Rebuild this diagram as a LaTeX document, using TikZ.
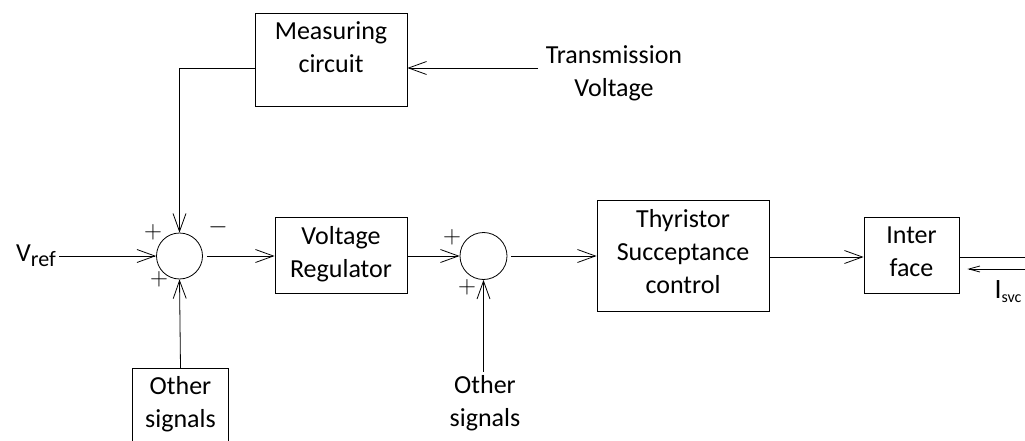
\documentclass[tikz,border=0pt]{standalone}
\usepackage{fontspec}
\setmainfont{Carlito}
\usetikzlibrary{arrows.meta,positioning,calc}
\newcommand{\blkfont}{\fontsize{26}{33}\selectfont}
\tikzstyle{blk} = [draw,rectangle,line width=0.8pt,align=center,font=\blkfont,inner sep=0pt]
\tikzstyle{lbl} = [align=center,font=\blkfont]
\tikzstyle{sumc} = [draw,circle,line width=0.8pt,minimum size=46pt,inner sep=0pt]
\tikzstyle{sig} = [line width=0.8pt,-{Straight Barb[length=18pt,width=13pt,line width=0.8pt]}]
\tikzstyle{sigs} = [line width=0.8pt,-{Straight Barb[length=11pt,width=6pt,line width=0.8pt]}]
\tikzstyle{sgn} = [font=\fontsize{26}{26}\selectfont,inner sep=0pt]

\begin{document}
\begin{tikzpicture}[x=1pt,y=-1pt]
       \useasboundingbox (0,0) rectangle (1025,441);
       \clip (0,0) rectangle (1025,441);

        \node[blk,minimum width=152pt,minimum height=93pt,text depth=25pt] (meas) at (331,59.5) {Measuring\\circuit};
        \node[blk,minimum width=132pt,minimum height=76pt,text depth=6pt] (vreg) at (341,255) {Voltage\\Regulator};
        \node[blk,minimum width=172pt,minimum height=111pt,text depth=8pt] (thyr) at (683,255.5) {Thyristor\\Succeptance\\control};
        \node[blk,minimum width=95pt,minimum height=76pt,text depth=6pt] (intf) at (911.5,255) {Inter\\face};
        \node[sumc] (sum1) at (179.5,256) {};
        \node[sumc,minimum size=47pt] (sum2) at (483.5,256) {};

        \node[lbl] (vref) at (36,256) {{\fontsize{26}{26}\selectfont V}{\fontsize{22}{22}\selectfont\raisebox{-5pt}{ref}}};
        \node[lbl] (tv) at (614,73) {Transmission\\Voltage};
        \node[lbl,minimum width=95pt,minimum height=73pt,anchor=north,inner sep=0pt] (oth1) at (180.5,368) {Other\\signals};
        \node[lbl] (oth2) at (485,403) {Other\\signals};
        \node[lbl,inner sep=0pt] (isvc) at (1008,292) {{\fontsize{28}{28}\selectfont I}{\fontsize{16}{16}\selectfont\raisebox{-4pt}{svc}}};

        \node[sgn] (p1) at (153,232) {$+$};
        \node[sgn,font=\fontsize{28}{28}\selectfont] (m1) at (218,227) {$-$};
        \node[sgn] (p2) at (159,279) {$+$};
        \node[sgn] (p3) at (452,237) {$+$};
        \node[sgn] (p4) at (467,287) {$+$};

        \coordinate (fb) at (179.5,68);
        \coordinate (tvin) at (538,68);
        \coordinate (out) at (1025,257);
        \coordinate (isin) at (1025,269);

        \draw[line width=0.8pt] (oth1.south west) -- (oth1.north west) -- (oth1.north east) -- (oth1.south east);
        \draw[sig] (tvin) -- (tvin -| meas.east);
        \draw[sig] (fb -| meas.west) -- (fb) -- (sum1.north);
        \draw[sig] (vref.east) -- (sum1.west);
        \draw[sig] (oth1.north) -- (sum1.south);
        \draw[sig] ([xshift=4pt]sum1.east) -- (sum1.east -| vreg.west);
        \draw[sig] (vreg.east |- sum2.west) -- (sum2.west);
        \draw[sig] (sum2.south |- oth2.north) -- (sum2.south);
        \draw[sig] ([xshift=4pt]sum2.east) -- (sum2.east -| thyr.west);
        \draw[sig] (thyr.east |- out) -- (thyr.east |- out -| intf.west);
        \draw[line width=0.8pt] (intf.east |- out) -- (out);
        \draw[sigs,shorten >=8pt] (isin) -- (isin -| intf.east);
    \end{tikzpicture}
\end{document}
